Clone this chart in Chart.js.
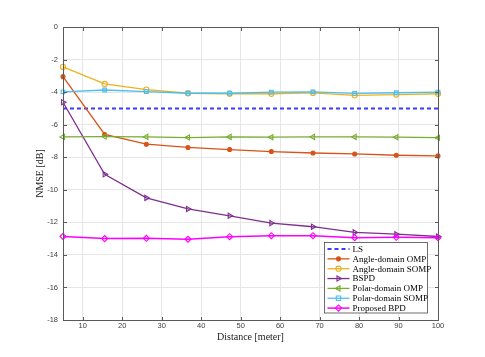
<!DOCTYPE html>
<html><head><meta charset="utf-8">
<script src="https://cdn.jsdelivr.net/npm/chart.js@4/dist/chart.umd.min.js"></script>
<style>html,body{margin:0;padding:0;background:#fff}#wrap{width:485px;height:357px;position:relative}</style>
</head><body><div id="wrap"><canvas id="c" width="485" height="357"></canvas></div>
<script>
// ---- data ----
const distances = [5, 15.56, 26.11, 36.67, 47.22, 57.78, 68.33, 78.89, 89.44, 100];
const xTicks = [10, 20, 30, 40, 50, 60, 70, 80, 90, 100];
const yTicks = [0, -2, -4, -6, -8, -10, -12, -14, -16, -18];
const seriesNames = ["LS", "Angle-domain OMP", "Angle-domain SOMP", "BSPD", "Polar-domain OMP", "Polar-domain SOMP", "Proposed BPD"];
const lsValues        = [-5, -5, -5, -5, -5, -5, -5, -5, -5, -5];
const angleOmpValues  = [-3.05, -6.6, -7.2, -7.4, -7.53, -7.65, -7.74, -7.8, -7.88, -7.92];
const angleSompValues = [-2.45, -3.5, -3.85, -4.07, -4.1, -4.1, -4.05, -4.2, -4.15, -4.1];
const bspdValues      = [-4.62, -9.05, -10.5, -11.18, -11.6, -12.05, -12.27, -12.62, -12.73, -12.87];
const polarOmpValues  = [-6.75, -6.73, -6.75, -6.79, -6.75, -6.77, -6.75, -6.75, -6.77, -6.8];
const polarSompValues = [-3.98, -3.87, -3.97, -4.07, -4.07, -4.0, -3.98, -4.08, -4.04, -4.0];
const proposedValues  = [-12.87, -13.0, -12.98, -13.04, -12.88, -12.82, -12.82, -12.94, -12.92, -12.94];

const allValues = [lsValues, angleOmpValues, angleSompValues, bspdValues, polarOmpValues, polarSompValues, proposedValues];
const styles = [
  {color:'#3b3bff', dash:[4,3], width:2, point:false},
  {color:'#D95319', width:1.3, point:'circle', radius:2, fill:true},
  {color:'#EDB120', width:1.3, point:'circle', radius:2.6},
  {color:'#7E2F8E', width:1.3, point:'triangle', radius:3, rot:90},
  {color:'#77AC30', width:1.3, point:'triangle', radius:3, rot:-90},
  {color:'#4DBEEE', width:1.3, point:'rect', radius:2.6},
  {color:'#FF00FF', width:1.5, point:'rectRot', radius:3}
];

const datasets = allValues.map((vals, i) => {
  const s = styles[i];
  return {
    label: seriesNames[i],
    data: distances.map((d, k) => ({x: d, y: vals[k]})),
    borderColor: s.color,
    borderWidth: s.width,
    borderDash: s.dash || [],
    backgroundColor: s.color,
    pointStyle: s.point || 'circle',
    pointRadius: s.point ? s.radius : 0,
    pointRotation: s.rot || 0,
    pointBorderColor: s.color,
    pointBackgroundColor: s.fill ? s.color : 'rgba(255,255,255,0)',
    pointBorderWidth: 1.1,
    tension: 0,
    fill: false,
    clip: 6,
    order: -i
  };
});

function drawMarker(ctx, s, x, y) {
  if (!s.point) return;
  ctx.save();
  ctx.strokeStyle = s.color; ctx.lineWidth = 1.1; ctx.setLineDash([]);
  ctx.fillStyle = s.fill ? s.color : 'rgba(255,255,255,0)';
  const r = s.radius;
  ctx.translate(x, y);
  ctx.rotate((s.rot || 0) * Math.PI / 180);
  ctx.beginPath();
  if (s.point === 'circle') ctx.arc(0, 0, r, 0, Math.PI * 2);
  else if (s.point === 'rect') { const h = r / Math.SQRT2 * 1.2; ctx.rect(-h, -h, 2*h, 2*h); }
  else if (s.point === 'rectRot') { ctx.moveTo(0,-r); ctx.lineTo(r,0); ctx.lineTo(0,r); ctx.lineTo(-r,0); ctx.closePath(); }
  else if (s.point === 'triangle') { ctx.moveTo(0, -r); ctx.lineTo(r*0.866, r*0.5); ctx.lineTo(-r*0.866, r*0.5); ctx.closePath(); }
  ctx.fill(); ctx.stroke();
  ctx.restore();
}

const boxPlugin = {
  id: 'boxAxes',
  afterDraw(chart) {
    const ctx = chart.ctx, a = chart.chartArea;
    const xs = chart.scales.x, ys = chart.scales.y;
    ctx.save();
    ctx.strokeStyle = '#5a5a5a'; ctx.lineWidth = 1; ctx.setLineDash([]);
    const L = Math.round(a.left) + 0.5, R = Math.round(a.right) + 0.5, T = Math.round(a.top) + 0.5, B = Math.round(a.bottom) + 0.5;
    ctx.strokeRect(L, T, R - L, B - T);
    ctx.beginPath();
    const tl = 3.5;
    xTicks.forEach(v => {
      const px = Math.round(xs.getPixelForValue(v)) + 0.5;
      ctx.moveTo(px, B); ctx.lineTo(px, B - tl);
      ctx.moveTo(px, T); ctx.lineTo(px, T + tl);
    });
    yTicks.forEach(v => {
      const py = Math.round(ys.getPixelForValue(v)) + 0.5;
      ctx.moveTo(L, py); ctx.lineTo(L + tl, py);
      ctx.moveTo(R, py); ctx.lineTo(R - tl, py);
    });
    ctx.stroke();

    // legend
    const lw = 103, lh = 70.5;
    const lx = Math.round(a.right - 11 - lw) + 0.5, ly = Math.round(a.bottom - 8 - lh) + 0.5;
    ctx.fillStyle = '#ffffff';
    ctx.fillRect(lx, ly, lw, lh);
    ctx.strokeStyle = '#4a4a4a'; ctx.lineWidth = 0.8;
    ctx.strokeRect(lx, ly, lw, lh);
    ctx.font = '9px "Liberation Serif", "DejaVu Serif", serif';
    ctx.textBaseline = 'middle'; ctx.textAlign = 'left';
    seriesNames.forEach((name, i) => {
      const s = styles[i];
      const yy = ly + 6.5 + i * 9.85;
      ctx.save();
      ctx.strokeStyle = s.color; ctx.lineWidth = s.width; ctx.setLineDash(s.dash || []);
      ctx.beginPath(); ctx.moveTo(lx + 3, yy); ctx.lineTo(lx + 25, yy); ctx.stroke();
      ctx.restore();
      drawMarker(ctx, s, lx + 14, yy);
      ctx.fillStyle = '#000';
      ctx.fillText(name, lx + 28, yy + 0.5);
    });
    ctx.restore();
  }
};

new Chart(document.getElementById('c'), {
  type: 'line',
  data: { datasets },
  options: {
    responsive: false,
    animation: false,
    devicePixelRatio: 1,
    layout: { padding: { top: 27, right: 47, left: 0, bottom: 0 } },
    plugins: { legend: { display: false }, tooltip: { enabled: false } },
    scales: {
      x: {
        type: 'linear', min: 5, max: 100,
        afterBuildTicks: s => { s.ticks = xTicks.map(v => ({ value: v })); },
        afterFit: s => { s.height = 37; },
        grid: { color: '#e6e6e6', drawTicks: false, lineWidth: 1 },
        border: { display: false },
        ticks: { padding: 1.5, color: '#404040', font: { family: '"Liberation Sans", Arial, sans-serif', size: 7.5 }, maxRotation: 0 },
        title: { display: true, text: 'Distance [meter]', color: '#1a1a1a', font: { family: '"Liberation Serif", "DejaVu Serif", serif', size: 10 }, padding: { top: 0, bottom: 14 } }
      },
      y: {
        type: 'linear', min: -18, max: 0,
        afterBuildTicks: s => { s.ticks = yTicks.map(v => ({ value: v })); },
        afterFit: s => { s.width = 63; },
        grid: { color: '#e6e6e6', drawTicks: false, lineWidth: 1 },
        border: { display: false },
        ticks: { padding: 5, color: '#404040', font: { family: '"Liberation Sans", Arial, sans-serif', size: 7.5 } },
        title: { display: true, text: 'NMSE [dB]', color: '#1a1a1a', font: { family: '"Liberation Serif", "DejaVu Serif", serif', size: 10 }, padding: { top: 34, bottom: 0 } }
      }
    }
  },
  plugins: [boxPlugin]
});
</script>
</body></html>
